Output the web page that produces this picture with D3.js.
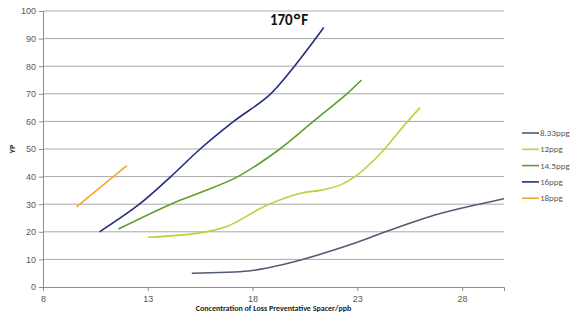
<!DOCTYPE html>
<html>
<head>
<meta charset="utf-8">
<script src="https://cdn.jsdelivr.net/npm/d3@7"></script>
<style>
  body { margin: 0; background: #fff; }
  svg { font-family: Calibri, Carlito, "Open Sans", "Liberation Sans", Arial, sans-serif; }
</style>
</head>
<body>
<div id="chart"></div>
<script>
// --- data ---
const seriesNames = ["8.33ppg", "12ppg", "14.5ppg", "16ppg", "18ppg"];
const seriesColors = ["#525c70", "#b7d43a", "#5e9f2c", "#232c86", "#f4a82a"];

const s833 = [[15.1, 5], [17.8, 5.8], [18.7, 6.9], [20.3, 9.8], [23, 16.2], [24.3, 19.9], [26.4, 25.4], [28, 28.6], [30, 32]];
const s12 = [[13, 18], [15.5, 19.6], [16.8, 22], [18.7, 29.7], [20.3, 34], [21.3, 35.1], [22.2, 37], [23, 40.6], [23.8, 46], [24.3, 50], [25.4, 60], [26, 65]];
const s145 = [[11.6, 21], [14.1, 30], [15.6, 34.5], [17.3, 40], [19.3, 50], [20.9, 60], [22.5, 70], [23.2, 75]];
const s16 = [[10.7, 20], [12.6, 30], [14.1, 40], [15.5, 50], [17.1, 60], [18.8, 69.5], [20, 80], [21.4, 94]];
const s18 = [[9.6, 29], [12, 44]];
const seriesData = [s833, s12, s145, s16, s18];

const xTicks = [8, 13, 18, 23, 28];
const yTicks = [0, 10, 20, 30, 40, 50, 60, 70, 80, 90, 100];

// --- layout ---
const W = 571, H = 322;
const margin = { top: 11, right: 67, bottom: 35, left: 43 };
const iw = W - margin.left - margin.right;
const ih = H - margin.top - margin.bottom;

const svg = d3.select("#chart").append("svg").attr("width", W).attr("height", H);
const g = svg.append("g").attr("transform", `translate(${margin.left},${margin.top})`);

const x = d3.scaleLinear().domain([8, 30]).range([0, iw]);
const y = d3.scaleLinear().domain([0, 100]).range([ih, 0]);

// gridlines
g.append("g").selectAll("line").data(yTicks.filter(d => d > 0)).enter().append("line")
  .attr("x1", 0).attr("x2", iw)
  .attr("y1", d => y(d)).attr("y2", d => y(d))
  .attr("stroke", "#a8a8a8").attr("stroke-width", 1);

// axes
const yAxis = g.append("g").call(d3.axisLeft(y).tickValues(yTicks).tickSize(4).tickPadding(3));
const xAxis = g.append("g").attr("transform", `translate(0,${ih})`)
  .call(d3.axisBottom(x).tickValues(xTicks).tickSize(4).tickPadding(5));
[xAxis, yAxis].forEach(a => {
  a.select(".domain").attr("stroke", "#8c8c8c");
  a.selectAll(".tick line").attr("stroke", "#8c8c8c");
  a.selectAll(".tick text").attr("fill", "#595959").style("font-size", "9px");
});

// lines
const line = d3.line().x(d => x(d[0])).y(d => y(d[1])).curve(d3.curveCatmullRom.alpha(0.5));
g.selectAll(".series").data(seriesData).enter().append("path")
  .attr("class", "series")
  .attr("d", d => line(d))
  .attr("fill", "none")
  .attr("stroke", (d, i) => seriesColors[i])
  .attr("stroke-width", 1.6);

// title
const title = svg.append("text").attr("x", 289).attr("y", 25).attr("text-anchor", "middle")
  .style("font-size", "15px").style("font-weight", "bold").attr("fill", "#111");
title.append("tspan").text("170");
title.append("tspan").attr("dx", 1).style("font-size", "19px").attr("dy", 1).text("°");
title.append("tspan").attr("dy", -1).attr("dx", 1).text("F");

// axis titles
svg.append("text").attr("transform", `translate(15,${margin.top + ih / 2}) rotate(-90)`)
  .attr("text-anchor", "middle").style("font-size", "8px").style("font-weight", "bold")
  .attr("fill", "#222").text("YP");
svg.append("text").attr("x", margin.left + iw / 2).attr("y", 311).attr("text-anchor", "middle")
  .style("font-size", "8px").style("font-weight", "bold").attr("fill", "#222")
  .text("Concentration of Loss Preventative Spacer/ppb");

// legend
const legend = svg.append("g").attr("transform", "translate(522,133)");
const items = legend.selectAll("g").data(seriesNames).enter().append("g")
  .attr("transform", (d, i) => `translate(0,${i * 16.3})`);
items.append("line").attr("x1", 0).attr("x2", 17).attr("y1", 0).attr("y2", 0)
  .attr("stroke", (d, i) => seriesColors[i]).attr("stroke-width", 1.6);
items.append("text").attr("x", 18).attr("y", 3).style("font-size", "9px")
  .attr("fill", "#595959").text(d => d);
</script>
</body>
</html>
